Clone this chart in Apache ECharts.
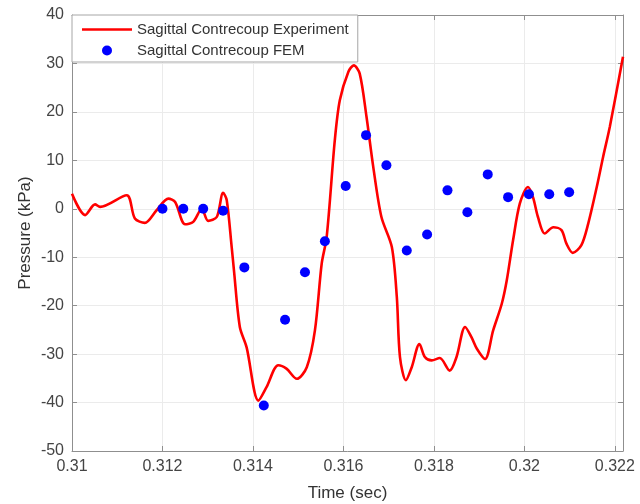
<!DOCTYPE html>
<html>
<head>
<meta charset="utf-8">
<title>Sagittal Contrecoup Pressure</title>
<script src="https://cdn.jsdelivr.net/npm/echarts@6/dist/echarts.min.js"></script>
<style>
  html, body { margin: 0; padding: 0; background: #ffffff; }
  #chart { width: 640px; height: 504px; }
</style>
</head>
<body>
<div id="chart"></div>
<script>
// Experimental pressure trace (time in s, pressure in kPa)
const expTime = [
  0.31000, 0.31029, 0.31051, 0.31062, 0.31121, 0.31139, 0.31161, 0.31187,
  0.31213, 0.31228, 0.31250, 0.31268, 0.31287, 0.31301, 0.31320, 0.31334,
  0.31342, 0.31353, 0.31358, 0.31371, 0.31386, 0.31412, 0.31430, 0.31456,
  0.31474, 0.31497, 0.31519, 0.31537, 0.31552, 0.31563, 0.31581, 0.31592,
  0.31611, 0.31623, 0.31636, 0.31651, 0.31666, 0.31684, 0.31707, 0.31718,
  0.31725, 0.31738, 0.31751, 0.31768, 0.31780, 0.31795, 0.31813, 0.31835,
  0.31850, 0.31869, 0.31883, 0.31895, 0.31913, 0.31931, 0.31950, 0.31961,
  0.31975, 0.31990, 0.32008, 0.32019, 0.32030, 0.32045, 0.32064, 0.32082,
  0.32093, 0.32107, 0.32126, 0.32141, 0.32160, 0.32174, 0.32189, 0.32218
];
const expPressure = [
  3.1, -1.3, 0.9, 0.4, 2.8, -2.0, -2.9, -0.3,
  2.1, 1.4, -3.2, -2.7, 0.0, -2.5, -1.7, 3.3,
  1.8, -7.9, -12.7, -24.4, -28.6, -39.6, -36.8, -32.3,
  -33.0, -35.1, -32.7, -25.1, -11.3, -5.8, 14.2, 22.4,
  28.3, 29.6, 27.9, 19.0, 8.6, -1.7, -7.9, -18.2,
  -30.6, -35.4, -32.7, -27.9, -30.6, -31.3, -30.8, -33.4,
  -30.6, -24.4, -26.5, -28.9, -31.0, -25.1, -19.6, -14.8,
  -6.5, 1.1, 4.5, 2.4, -1.7, -5.1, -3.8, -4.4,
  -7.2, -9.1, -7.5, -3.1, 4.5, 10.7, 17.0, 31.4
];

// Finite element model samples
const femTime = [
  0.31200, 0.31246, 0.31290, 0.31334, 0.31381, 0.31424, 0.31471,
  0.31515, 0.31559, 0.31605, 0.31650, 0.31695, 0.31740, 0.31785,
  0.31830, 0.31874, 0.31919, 0.31964, 0.32010, 0.32055, 0.32099
];
const femPressure = [
  0.0, 0.0, 0.0, -0.4, -12.1, -40.6, -22.9,
  -13.1, -6.7, 4.7, 15.2, 9.0, -8.6, -5.3,
  3.8, -0.7, 7.1, 2.4, 3.0, 3.0, 3.4
];

const seriesNames = ['Sagittal Contrecoup Experiment', 'Sagittal Contrecoup FEM'];
const xRange = [0.31, 0.32218];
const yRange = [-50, 40];

const expData = expTime.map((t, i) => [t, expPressure[i]]);
const femData = femTime.map((t, i) => [t, femPressure[i]]);

const FONT = 'Liberation Sans, Arial, sans-serif';
const axisLineStyle = { color: '#8f8f8f', width: 1 };
const tickStyle = { color: '#8f8f8f', width: 1 };

const chart = echarts.init(document.getElementById('chart'), null, { renderer: 'canvas' });

chart.setOption({
  animation: false,
  backgroundColor: '#ffffff',
  grid: {
    left: 72, right: 17, top: 15, bottom: 53,
    containLabel: false,
    outerBoundsMode: 'none'
  },
  legend: {
    left: 72,
    top: 15,
    orient: 'vertical',
    data: [
      // plain line swatch for the measured trace
      { name: seriesNames[0], icon: 'path://M0,0H50V2.6H0Z' },
      { name: seriesNames[1], icon: 'circle' }
    ],
    backgroundColor: '#ffffff',
    borderColor: '#a6a6a6',
    borderWidth: 1,
    borderRadius: 0,
    padding: [7, 9, 4, 10],
    itemWidth: 50,
    itemHeight: 10,
    itemGap: 6,
    textStyle: { fontFamily: FONT, fontSize: 15, color: '#333333' }
  },
  xAxis: [
    {
      type: 'value',
      position: 'bottom',
      min: xRange[0],
      max: xRange[1],
      interval: 0.002,
      name: 'Time (sec)',
      nameLocation: 'middle',
      nameGap: 34,
      nameMoveOverlap: false,
      nameTextStyle: { fontFamily: FONT, fontSize: 17, color: '#333333' },
      axisLine: { show: true, onZero: false, lineStyle: axisLineStyle },
      axisTick: { show: true, inside: true, length: 5, lineStyle: tickStyle },
      axisLabel: {
        show: true, margin: 8, showMaxLabel: false,
        fontFamily: FONT, fontSize: 16, color: '#444444'
      },
      splitLine: { show: true, lineStyle: { color: '#ebebeb', width: 1 } }
    },
    {
      type: 'value',
      position: 'top',
      min: xRange[0],
      max: xRange[1],
      interval: 0.002,
      axisLine: { show: true, onZero: false, lineStyle: axisLineStyle },
      axisTick: { show: true, inside: true, length: 5, lineStyle: tickStyle },
      axisLabel: { show: false },
      splitLine: { show: false }
    }
  ],
  yAxis: [
    {
      type: 'value',
      position: 'left',
      min: yRange[0],
      max: yRange[1],
      interval: 10,
      name: 'Pressure (kPa)',
      nameLocation: 'middle',
      nameGap: 38,
      nameMoveOverlap: false,
      nameTextStyle: { fontFamily: FONT, fontSize: 17, color: '#333333' },
      axisLine: { show: true, onZero: false, lineStyle: axisLineStyle },
      axisTick: { show: true, inside: true, length: 5, lineStyle: tickStyle },
      axisLabel: { show: true, margin: 8, fontFamily: FONT, fontSize: 16, color: '#444444' },
      splitLine: { show: true, lineStyle: { color: '#ebebeb', width: 1 } }
    },
    {
      type: 'value',
      position: 'right',
      min: yRange[0],
      max: yRange[1],
      interval: 10,
      axisLine: { show: true, onZero: false, lineStyle: axisLineStyle },
      axisTick: { show: true, inside: true, length: 5, lineStyle: tickStyle },
      axisLabel: { show: false },
      splitLine: { show: false }
    }
  ],
  series: [
    {
      name: seriesNames[0],
      type: 'line',
      xAxisIndex: 0,
      yAxisIndex: 0,
      data: expData,
      symbol: 'none',
      smooth: 0.3,
      clip: true,
      lineStyle: { color: '#ff0000', width: 2.6 },
      itemStyle: { color: '#ff0000' },
      z: 2
    },
    {
      name: seriesNames[1],
      type: 'scatter',
      xAxisIndex: 0,
      yAxisIndex: 0,
      data: femData,
      symbol: 'circle',
      symbolSize: 10,
      itemStyle: { color: '#0000ff', opacity: 1 },
      z: 3
    }
  ]
});
</script>
</body>
</html>
